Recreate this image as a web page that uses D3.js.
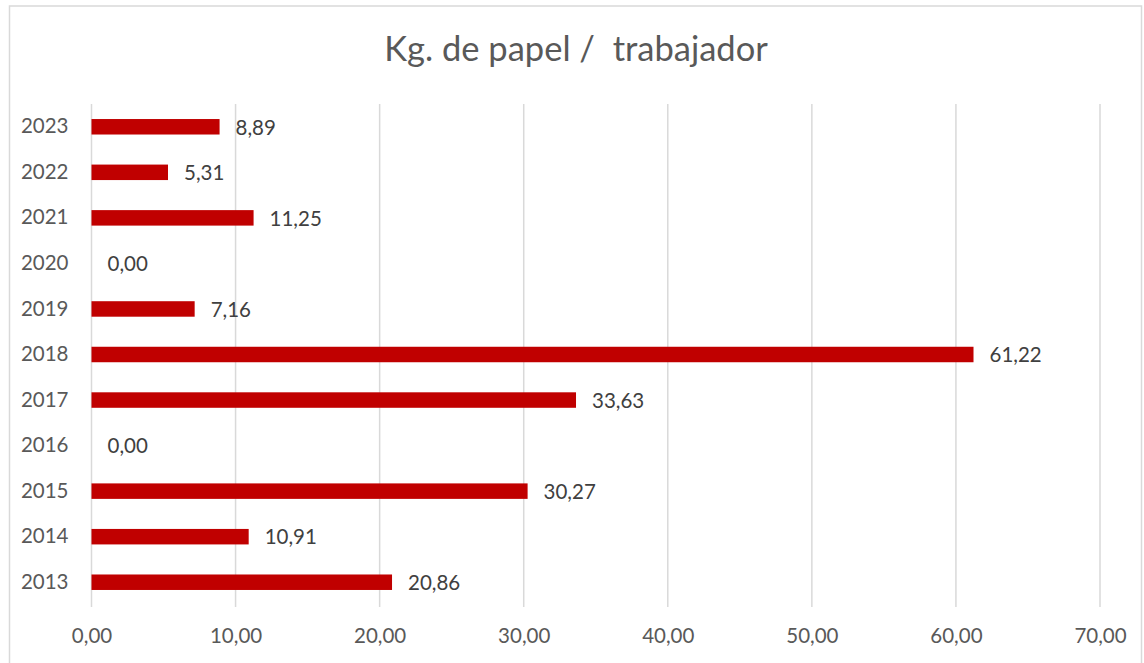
<!DOCTYPE html>
<html>
<head>
<meta charset="utf-8">
<script src="https://cdn.jsdelivr.net/npm/d3@7"></script>
<style>
  body { margin: 0; background: #fff; }
  svg { display: block; font-family: Lato, Carlito, "Open Sans", sans-serif; }
</style>
</head>
<body>
<svg id="chart" width="1144" height="663"></svg>
<script>
'use strict';

const years = ['2013', '2014', '2015', '2016', '2017', '2018', '2019', '2020', '2021', '2022', '2023'];
const kgPerWorker = [20.86, 10.91, 30.27, 0.00, 33.63, 61.22, 7.16, 0.00, 11.25, 5.31, 8.89];
const xTicks = [0, 10, 20, 30, 40, 50, 60, 70];

const W = 1144;
const H = 663;
const margin = { top: 104, right: 44, bottom: 58, left: 91.5 };
const fmt = (v) => v.toFixed(2).replace('.', ',');

const svg = d3.select('#chart');

// outer chart border
svg.append('rect')
  .attr('x', 9.5)
  .attr('y', 6)
  .attr('width', 1132)
  .attr('height', 662)
  .attr('fill', '#fff')
  .attr('stroke', '#d9d9d9')
  .attr('stroke-width', 1.5);

svg.append('text')
  .attr('x', 576)
  .attr('y', 61)
  .attr('text-anchor', 'middle')
  .attr('font-size', 34.5)
  .attr('fill', '#595959')
  .attr('xml:space', 'preserve')
  .text('Kg. de papel /  trabajador');

const x = d3.scaleLinear()
  .domain([0, 70])
  .range([margin.left, W - margin.right]);

const y = d3.scaleBand()
  .domain(years.slice().reverse())
  .range([margin.top, H - margin.bottom])
  .paddingInner(0.66)
  .paddingOuter(0.33);

// vertical gridlines
svg.append('g')
  .selectAll('line')
  .data(xTicks)
  .join('line')
  .attr('x1', (d) => x(d))
  .attr('x2', (d) => x(d))
  .attr('y1', margin.top)
  .attr('y2', H - margin.bottom + 2)
  .attr('stroke', '#d9d9d9')
  .attr('stroke-width', 1.5);

// x tick labels
const xAxis = svg.append('g')
  .attr('transform', `translate(0,${H - margin.bottom})`)
  .call(d3.axisBottom(x).tickValues(xTicks).tickFormat(fmt).tickSize(0).tickPadding(23));
xAxis.select('.domain').remove();
xAxis.selectAll('text')
  .attr('font-size', 20.5)
  .attr('font-family', 'Lato, Carlito, sans-serif')
  .attr('fill', '#595959');

// y category labels
const yAxis = svg.append('g')
  .attr('transform', `translate(${margin.left},0)`)
  .call(d3.axisLeft(y).tickSize(0).tickPadding(23));
yAxis.select('.domain').remove();
yAxis.selectAll('text')
  .attr('font-size', 20.5)
  .attr('font-family', 'Lato, Carlito, sans-serif')
  .attr('fill', '#595959');

const rows = years.map((yr, i) => ({ year: yr, value: kgPerWorker[i] }));

svg.append('g')
  .selectAll('rect')
  .data(rows)
  .join('rect')
  .attr('x', x(0))
  .attr('y', (d) => y(d.year))
  .attr('width', (d) => x(d.value) - x(0))
  .attr('height', y.bandwidth())
  .attr('fill', '#c00000');

svg.append('g')
  .selectAll('text')
  .data(rows)
  .join('text')
  .attr('x', (d) => x(d.value) + 16)
  .attr('y', (d) => y(d.year) + y.bandwidth() / 2)
  .attr('dy', '0.38em')
  .attr('font-size', 20.5)
  .attr('fill', '#404040')
  .text((d) => fmt(d.value));
</script>
</body>
</html>
